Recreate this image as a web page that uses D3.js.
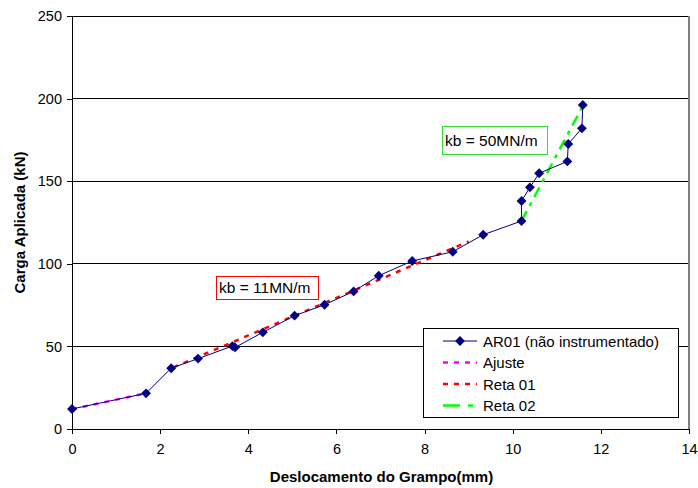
<!DOCTYPE html>
<html>
<head>
<meta charset="utf-8">
<script src="https://cdn.jsdelivr.net/npm/d3@7"></script>
<style>
  body { margin: 0; background: #fff; }
  svg { font-family: "Liberation Sans", Arial, sans-serif; }
</style>
</head>
<body>
<svg id="chart" width="698" height="488"></svg>
<script>
// Load–displacement curve
const deslocamento = [0, 1.68, 2.25, 2.86, 3.64, 3.70, 4.33, 5.05, 5.73, 6.39, 6.96, 7.72, 8.64, 9.33, 10.2, 10.2, 10.39, 10.6, 11.24, 11.26, 11.57, 11.59];
const carga = [12.1, 21.6, 36.8, 42.6, 50.2, 49.4, 58.5, 68.6, 75.2, 83.3, 92.8, 101.7, 107.3, 117.6, 125.9, 138.0, 146.3, 154.8, 162.0, 172.5, 182.0, 196.1];

// fitted lines (start / end points)
const ajusteX = [0, 1.68];
const ajusteY = [12.1, 21.6];
const reta01X = [2.3, 9.0];
const reta01Y = [37.3, 113.5];
const reta02X = [10.2, 11.6];
const reta02Y = [126, 196];

const xTicks = [0, 2, 4, 6, 8, 10, 12, 14];
const yTicks = [0, 50, 100, 150, 200, 250];
const legendLabels = ['AR01 (não instrumentado)', 'Ajuste', 'Reta 01', 'Reta 02'];

const svg = d3.select('#chart');
const margin = { left: 72, right: 10, top: 16, bottom: 59 };
const width = 698, height = 488;

const x = d3.scaleLinear().domain([0, 14]).range([margin.left, 689]);
const y = d3.scaleLinear().domain([0, 250]).range([height - margin.bottom, margin.top]);

// gridlines
svg.append('g')
  .selectAll('line')
  .data(yTicks.filter(d => d > 0))
  .enter()
  .append('line')
  .attr('x1', x(0)).attr('x2', x(14))
  .attr('y1', d => y(d)).attr('y2', d => y(d))
  .attr('stroke', '#000').attr('stroke-width', 1)
  .attr('shape-rendering', 'crispEdges');

// right border of the plot area
svg.append('line')
  .attr('x1', x(14)).attr('x2', x(14))
  .attr('y1', y(250)).attr('y2', y(0))
  .attr('stroke', '#808080').attr('stroke-width', 2);

// axes
const xAxis = svg.append('g')
  .attr('transform', `translate(0,${y(0)})`)
  .call(d3.axisBottom(x).tickValues(xTicks).tickSize(5).tickPadding(10).tickFormat(d3.format('d')));
const yAxis = svg.append('g')
  .attr('transform', `translate(${x(0)},0)`)
  .call(d3.axisLeft(y).tickValues(yTicks).tickSize(5).tickPadding(5));
[xAxis, yAxis].forEach(g => {
  g.select('.domain').attr('stroke', '#000').attr('shape-rendering', 'crispEdges');
  g.selectAll('.tick line').attr('stroke', '#000').attr('shape-rendering', 'crispEdges');
  g.selectAll('.tick text').attr('fill', '#000').style('font-size', '14.5px').style('font-family', '"Liberation Sans", Arial, sans-serif');
});

// axis titles
svg.append('text')
  .attr('x', (x(0) + x(14)) / 2 + 1)
  .attr('y', 482)
  .attr('text-anchor', 'middle')
  .style('font-size', '15px').style('font-weight', 'bold')
  .text('Deslocamento do Grampo(mm)');
svg.append('text')
  .attr('transform', `translate(25,${(y(0) + y(250)) / 2}) rotate(-90)`)
  .attr('text-anchor', 'middle')
  .style('font-size', '15px').style('font-weight', 'bold')
  .text('Carga Aplicada (kN)');

// fitted lines
const line = d3.line().x(d => x(d[0])).y(d => y(d[1]));
const fits = [
  { xs: ajusteX, ys: ajusteY, color: '#ff00ff', dash: '5,6' },
  { xs: reta01X, ys: reta01Y, color: '#ff0000', dash: '5,6' },
  { xs: reta02X, ys: reta02Y, color: '#00ff00', dash: '11,6,4,6' }
];
fits.forEach(f => {
  svg.append('path')
    .datum(f.xs.map((v, i) => [v, f.ys[i]]))
    .attr('d', line)
    .attr('fill', 'none')
    .attr('stroke', f.color)
    .attr('stroke-width', 2.5)
    .attr('stroke-dasharray', f.dash);
});

// main series
const pts = deslocamento.map((v, i) => [v, carga[i]]);
svg.append('path')
  .datum(pts)
  .attr('d', line)
  .attr('fill', 'none')
  .attr('stroke', '#000080')
  .attr('stroke-width', 1);
const diamond = d3.symbol().type(d3.symbolDiamond2).size(62);
svg.append('g')
  .selectAll('path')
  .data(pts)
  .enter()
  .append('path')
  .attr('transform', d => `translate(${x(d[0])},${y(d[1])})`)
  .attr('d', diamond)
  .attr('fill', '#000080');

// annotation boxes
const notes = [
  { text: 'kb = 11MN/m', x: 216, y: 276, w: 102, h: 23, color: '#ff0000' },
  { text: 'kb = 50MN/m', x: 442, y: 126, w: 105, h: 28, color: '#33dd33' }
];
notes.forEach(n => {
  svg.append('rect')
    .attr('x', n.x + 0.5).attr('y', n.y + 0.5)
    .attr('width', n.w).attr('height', n.h)
    .attr('fill', '#fff').attr('stroke', n.color).attr('stroke-width', 1);
  svg.append('text')
    .attr('x', n.x + 3).attr('y', n.y + n.h / 2 + 5.5)
    .style('font-size', '15.5px')
    .text(n.text);
});

// legend
const lg = svg.append('g').attr('transform', 'translate(423,328)');
lg.append('rect')
  .attr('x', 0.5).attr('y', 0.5).attr('width', 255).attr('height', 89)
  .attr('fill', '#fff').attr('stroke', '#000');
const legendStyles = [
  { color: '#000080', width: 1, dash: null, marker: true },
  { color: '#ff00ff', width: 2.5, dash: '5,6', marker: false },
  { color: '#ff0000', width: 2.5, dash: '5,6', marker: false },
  { color: '#00ff00', width: 2.5, dash: '17,8,5,8', marker: false }
];
legendLabels.forEach((lab, i) => {
  const cy = 13 + i * 21.5;
  const s = legendStyles[i];
  lg.append('line')
    .attr('x1', 20).attr('x2', 54)
    .attr('y1', cy).attr('y2', cy)
    .attr('stroke', s.color).attr('stroke-width', s.width)
    .attr('stroke-dasharray', s.dash);
  if (s.marker) {
    lg.append('path').attr('transform', `translate(37,${cy})`).attr('d', diamond).attr('fill', '#000080');
  }
  lg.append('text')
    .attr('x', 60).attr('y', cy + 5.5)
    .style('font-size', '15px')
    .text(lab);
});
</script>
</body>
</html>
